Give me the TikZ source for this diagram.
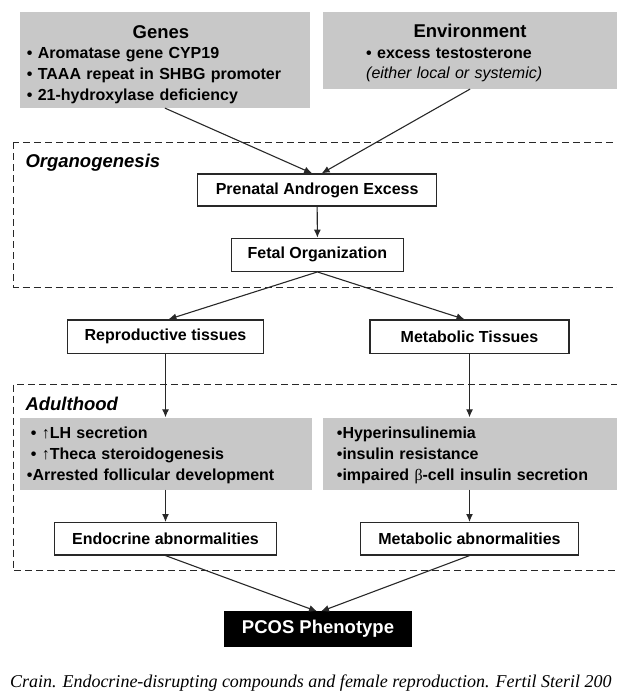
\documentclass[tikz,border=0pt]{standalone}
\usepackage{fontspec}
\setmainfont{Liberation Sans}
\newfontfamily\capfont{Liberation Serif}
\usetikzlibrary{arrows.meta}
\definecolor{boxgray}{RGB}{200,200,200}
\definecolor{linegray}{RGB}{40,40,40}

\begin{document}
\begin{tikzpicture}[
        x=1pt, y=-1pt,
        greybox/.style={fill=boxgray, anchor=north west, inner ysep=0pt, align=left, font=\bfseries\fontsize{16}{20.6}\selectfont},
        stepbox/.style={draw=linegray, line width=1.3pt, fill=white, inner sep=0pt, font=\bfseries\fontsize{16}{19}\selectfont},
        region/.style={draw=linegray, line width=1pt, dash pattern=on 7pt off 4pt},
        arrow/.style={-{Latex[length=8pt,width=7pt]}, line width=1.1pt, draw=linegray},
        phase/.style={anchor=base west, inner sep=0pt, font=\bfseries\itshape\fontsize{18.5}{20}\selectfont}
    ]
    \useasboundingbox (0,0) rectangle (617,698);

    % Developmental periods
    \draw[region] (13.5,142.3) rectangle (630,287.3);
    \node[phase] (organo label) at (25.3,167.5) {Organogenesis};
    \draw[region] (13.5,384.5) rectangle (630,570.7);
    \node[phase] (adult label) at (25.3,410.3) {Adulthood};

    % Causes
    \node[greybox, text width=276pt, inner xsep=7pt, minimum height=95.4pt] (genes) at (19.7,12.3)
        {\makebox[268pt]{\rule{0pt}{21.5pt}\fontsize{18.5}{20.6}\selectfont Genes}\\
         • Aromatase gene CYP19\\
         • TAAA repeat in SHBG promoter\\
         • 21-hydroxylase deficiency};
    \node[greybox, text width=207.7pt, inner xsep=43.3pt, minimum height=76.4pt] (env) at (322.7,12.3)
        {\makebox[207.7pt]{\rule{0pt}{18.5pt}\fontsize{18.5}{20.6}\selectfont Environment}\\
         • excess testosterone\\
         {\mdseries\itshape (either local or systemic)}};

    % Organogenesis
    \node[stepbox, minimum width=239.3pt, minimum height=32pt] (prenatal) at (317.15,190) {Prenatal Androgen Excess};
    \node[stepbox, minimum width=172pt, minimum height=33pt] (fetal) at (317.4,254.8) {Fetal Organization};

    % Target tissues
    \node[stepbox, minimum width=195.6pt, minimum height=33.3pt] (repro) at (165.5,336.6) {Reproductive tissues};
    \node[stepbox, minimum width=199pt, minimum height=33.3pt] (metab) at (469.5,336.6) {Metabolic Tissues};

    % Adulthood
    \node[greybox, text width=278.3pt, inner xsep=7pt, minimum height=72pt] (repro list) at (19.7,417.3)
        {\hspace*{4pt}\rule{0pt}{15.5pt}• ↑LH secretion\\
         \hspace*{4pt}• ↑Theca steroidogenesis\\
         •Arrested follicular development};
    \node[greybox, text width=266.3pt, inner xsep=14pt, minimum height=72pt] (metab list) at (322.7,417.3)
        {\rule{0pt}{15.5pt}•Hyperinsulinemia\\
         •insulin resistance\\
         •impaired {\capfont\mdseries β}-cell insulin secretion};
    \node[stepbox, minimum width=222.4pt, minimum height=32.3pt] (endo) at (165.5,538.8) {Endocrine abnormalities};
    \node[stepbox, minimum width=218pt, minimum height=32.3pt] (metab ab) at (469.5,538.8) {Metabolic abnormalities};

    % Outcome
    \node[stepbox, draw=black, fill=black, text=white, minimum width=186pt, minimum height=34pt,
        font=\bfseries\fontsize{18.5}{20}\selectfont] (pcos) at (318,629) {PCOS Phenotype};

    % Source
    \node[anchor=base west, inner sep=0pt, font=\capfont\itshape\fontsize{18}{20}\selectfont] (source) at (9.8,687.7)
        {Crain. Endocrine-disrupting compounds and female reproduction. Fertil Steril 200};

    % Connectors
    \draw[arrow] (genes.south) -- ([xshift=-5pt]prenatal.north);
    \draw[arrow] (env.south) -- ([xshift=4.5pt]prenatal.north);
    \draw[arrow] (prenatal.south) -- (fetal.north);
    \draw[arrow] (fetal.south) -- ([xshift=3pt]repro.north);
    \draw[arrow] (fetal.south) -- ([xshift=-5pt]metab.north);
    \draw[arrow] (repro.south) -- (repro.south |- repro list.north);
    \draw[arrow] (metab.south) -- (metab.south |- metab list.north);
    \draw[arrow] (repro list.south -| endo.north) -- (endo.north);
    \draw[arrow] (metab list.south -| metab ab.north) -- (metab ab.north);
    \draw[arrow] (endo.south) -- ([xshift=-1pt]pcos.north);
    \draw[arrow] (metab ab.south) -- ([xshift=3pt]pcos.north);

\end{tikzpicture}
\end{document}
